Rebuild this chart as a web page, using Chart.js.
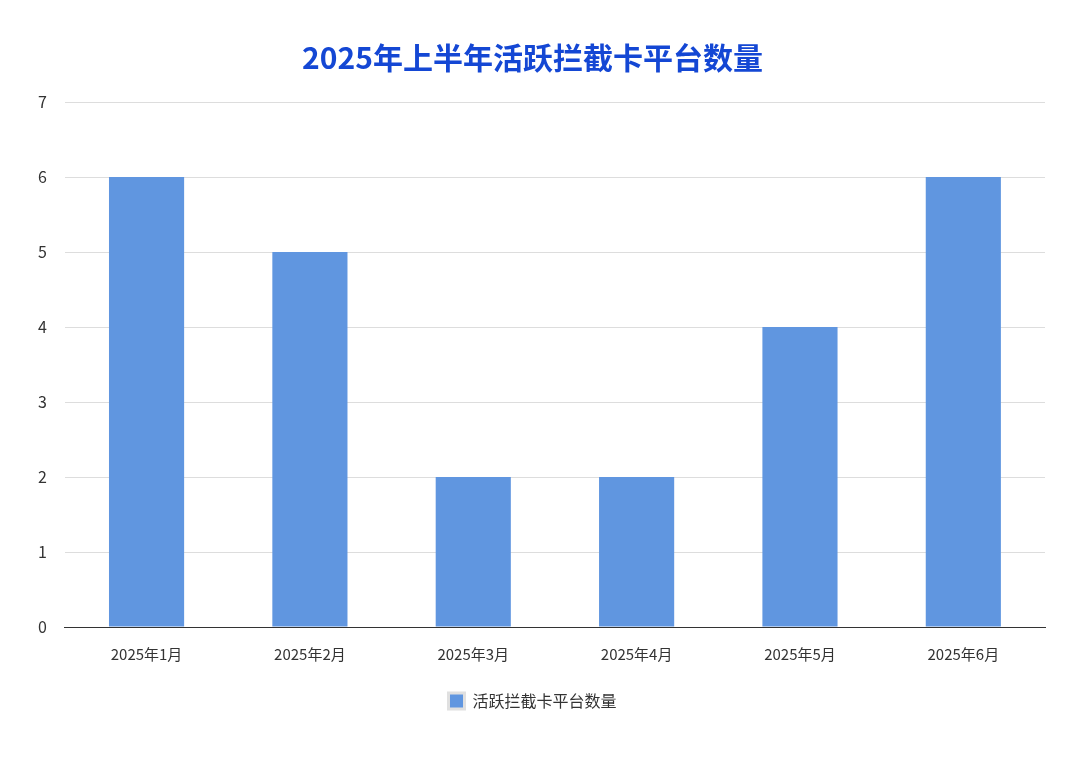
<!DOCTYPE html>
<html><head><meta charset="utf-8">
<script src="https://cdn.jsdelivr.net/npm/chart.js@4"></script>
<style>html,body{margin:0;background:#fff}#w{width:1080px;height:761px}</style>
</head><body><div id="w"><canvas id="c" width="1080" height="761"></canvas></div>
<script>
const categories=["2025年1月","2025年2月","2025年3月","2025年4月","2025年5月","2025年6月"];
const values=[6,5,2,2,4,6];
const seriesName="活跃拦截卡平台数量";
const F='"Noto Sans CJK SC", sans-serif';
new Chart(document.getElementById('c'),{
type:'bar',
data:{labels:categories,datasets:[{label:seriesName,data:values,backgroundColor:'#6096e0',barPercentage:0.46,categoryPercentage:1}]},
options:{responsive:false,animation:false,
layout:{padding:{left:20,right:35,top:20,bottom:42}},
plugins:{
title:{display:true,text:'2025年上半年活跃拦截卡平台数量',color:'#1447d4',font:{family:F,size:30,weight:'bold'},padding:{top:20,bottom:26}},
legend:{position:'bottom',labels:{color:'#333',font:{family:F,size:16},boxWidth:16,boxHeight:16,padding:20,
generateLabels:c=>[{text:seriesName,fillStyle:'#6096e0',strokeStyle:'#e0e0e0',lineWidth:3,fontColor:'#333'}]}},
tooltip:{enabled:false}},
scales:{
x:{grid:{display:false},border:{color:'#333'},ticks:{color:'#333',font:{family:F,size:15},padding:10}},
y:{min:0,max:7,ticks:{stepSize:1,color:'#333',font:{family:F,size:16},padding:18},grid:{color:'#ddd',drawTicks:false},border:{display:false}}
}}});
</script></body></html>
